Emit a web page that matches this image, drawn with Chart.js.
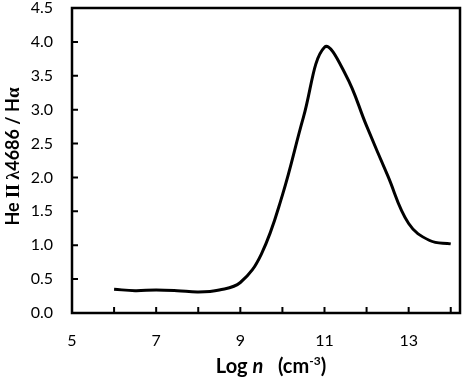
<!DOCTYPE html>
<html>
<head>
<meta charset="utf-8">
<script src="https://cdn.jsdelivr.net/npm/chart.js@4/dist/chart.umd.min.js"></script>
<style>
  html, body { margin: 0; padding: 0; background: #fff; }
  #wrap { width: 463px; height: 378px; }
</style>
</head>
<body>
<div id="wrap"><canvas id="chart"></canvas></div>
<script>
// Data
const logN = [6, 6.5, 7, 7.5, 8, 8.5, 9, 9.5, 10, 10.5, 11, 11.5, 12, 12.5, 13, 13.5, 14];
const ratio = [0.35, 0.33, 0.34, 0.33, 0.31, 0.34, 0.45, 0.87, 1.74, 2.89, 3.92, 3.52, 2.76, 2.03, 1.32, 1.07, 1.02];

// Axis ticks
const xTicks = [5, 6, 7, 8, 9, 10, 11, 12, 13, 14];
const xLabels = [5, 7, 9, 11, 13];
const yTicks = [0, 0.5, 1, 1.5, 2, 2.5, 3, 3.5, 4, 4.5];

const FONT = "Lato";

// frame, inward tick marks and the two axis titles (mixed fonts)
const framePlugin = {
    id: "frame",
    afterDraw(chart) {
        const { ctx, chartArea: a } = chart;
        const xs = chart.scales.x, ys = chart.scales.y;
        ctx.save();
        ctx.strokeStyle = "#000";
        ctx.lineWidth = 2.5;
        ctx.strokeRect(a.left, a.top, a.right - a.left, a.bottom - a.top);

        // tick marks pointing inward
        ctx.lineWidth = 2;
        ctx.beginPath();
        xTicks.forEach(v => {
            const px = xs.getPixelForValue(v);
            ctx.moveTo(px, a.bottom);
            ctx.lineTo(px, a.bottom - 6);
        });
        yTicks.forEach(v => {
            const py = ys.getPixelForValue(v);
            ctx.moveTo(a.left, py);
            ctx.lineTo(a.left + 6, py);
        });
        ctx.stroke();

        ctx.fillStyle = "#000";
        ctx.textBaseline = "alphabetic";

        // y title
        const ySeg = [
            { t: "He ", f: `bold 18px ${FONT}` },
            { t: "II", f: "bold 18px 'Liberation Serif'" },
            { t: " ", f: `bold 18px ${FONT}` },
            { t: "\u03bb", f: "bold 18px 'Liberation Serif'" },
            { t: "4686 / H", f: `bold 18px ${FONT}` },
            { t: "\u03b1", f: "bold 19px 'Liberation Serif'" }
        ];
        let w = 0;
        ySeg.forEach(s => { ctx.font = s.f; s.w = ctx.measureText(s.t).width; w += s.w; });
        ctx.translate(19, (a.top + a.bottom) / 2 - 4);
        ctx.rotate(-Math.PI / 2);
        let x = -w / 2;
        ySeg.forEach(s => { ctx.font = s.f; ctx.fillText(s.t, x, 0); x += s.w; });
        ctx.setTransform(1, 0, 0, 1, 0, 0);

        // x title
        const xSeg = [
            { t: "Log ", f: `bold 20px ${FONT}`, dy: 0 },
            { t: "n", f: `italic bold 20px ${FONT}`, dy: 0 },
            { t: "   (cm", f: `bold 20px ${FONT}`, dy: 0 },
            { t: "-3", f: `bold 12px ${FONT}`, dy: -8 },
            { t: ")", f: `bold 20px ${FONT}`, dy: 0 }
        ];
        w = 0;
        xSeg.forEach(s => { ctx.font = s.f; s.w = ctx.measureText(s.t).width; w += s.w; });
        x = 271 - w / 2;
        xSeg.forEach(s => { ctx.font = s.f; ctx.fillText(s.t, x, 373 + s.dy); x += s.w; });
        ctx.restore();
    }
};

const ctx = document.getElementById("chart").getContext("2d");
new Chart(ctx, {
    type: "line",
    data: {
        datasets: [{
            data: logN.map((v, i) => ({ x: v, y: ratio[i] })),
            borderColor: "#000",
            borderWidth: 3,
            pointRadius: 0,
            tension: 0.4,
            fill: false
        }]
    },
    options: {
        responsive: true,
        maintainAspectRatio: false,
        animation: false,
        layout: { padding: { top: 8, right: 3, left: 0, bottom: 0 } },
        plugins: { legend: { display: false }, tooltip: { enabled: false } },
        scales: {
            x: {
                type: "linear",
                min: 5,
                max: 14.22,
                afterBuildTicks: scale => { scale.ticks = xTicks.map(v => ({ value: v })); },
                afterFit: scale => { scale.height = 65; scale.paddingLeft = 0; scale.paddingRight = 0; },
                border: { display: false },
                grid: { display: false },
                ticks: {
                    color: "#000",
                    font: { family: FONT, size: 16 },
                    padding: 10,
                    maxRotation: 0,
                    autoSkip: false,
                    callback: v => (xLabels.includes(v) ? String(v) : "")
                }
            },
            y: {
                min: 0,
                max: 4.5,
                afterBuildTicks: scale => { scale.ticks = yTicks.map(v => ({ value: v })); },
                afterFit: scale => { scale.width = 72; scale.paddingTop = 0; scale.paddingBottom = 0; },
                border: { display: false },
                grid: { display: false },
                ticks: {
                    color: "#000",
                    font: { family: FONT, size: 16 },
                    padding: 11,
                    callback: v => v.toFixed(1)
                }
            }
        }
    },
    plugins: [framePlugin]
});
</script>
</body>
</html>
